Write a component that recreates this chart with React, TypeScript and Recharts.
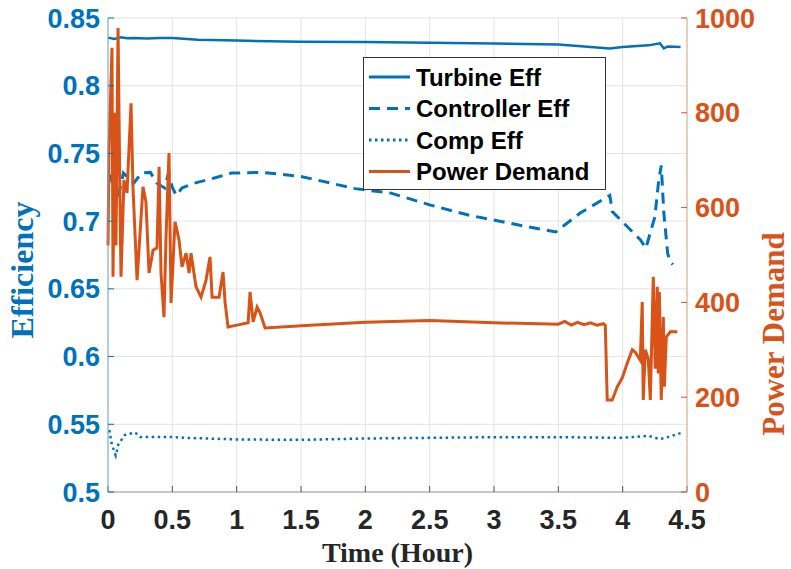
import React from "react";
import { ComposedChart, Line, XAxis, YAxis, CartesianGrid, Legend, Label } from "recharts";

const BLUE = "#0072BD";
const ORANGE = "#D95319";

// time (hour) ticks and axis ticks
const timeTicks = [0, 0.5, 1, 1.5, 2, 2.5, 3, 3.5, 4, 4.5];
const effTicks = [0.5, 0.55, 0.6, 0.65, 0.7, 0.75, 0.8, 0.85];
const powerTicks = [0, 200, 400, 600, 800, 1000];

const turbineT = [0, 0.05, 0.1, 0.15, 0.2, 0.3, 0.4, 0.5, 0.7, 1.0, 1.5, 2.0, 2.5, 3.0, 3.5, 3.8, 3.9, 4.0, 4.2, 4.29, 4.32, 4.35, 4.45];
const turbineEff = [0.8355, 0.8345, 0.8358, 0.835, 0.8353, 0.8348, 0.8352, 0.8352, 0.834, 0.8333, 0.8325, 0.8322, 0.8318, 0.8312, 0.8305, 0.8282, 0.8275, 0.8285, 0.8298, 0.8313, 0.8275, 0.829, 0.8285];

const controllerT = [0, 0.02, 0.07, 0.12, 0.2, 0.26, 0.33, 0.38, 0.44, 0.47, 0.5, 0.53, 0.575, 0.67, 0.82, 0.96, 1.2, 1.5, 1.92, 2.2, 2.5, 2.8, 3.2, 3.48, 3.67, 3.9, 3.92, 4.14, 4.18, 4.25, 4.28, 4.3, 4.32, 4.35, 4.37, 4.39];
const controllerEff = [0.731, 0.733, 0.714, 0.7355, 0.728, 0.7355, 0.736, 0.728, 0.7245, 0.7355, 0.725, 0.719, 0.7245, 0.728, 0.7317, 0.7355, 0.736, 0.733, 0.724, 0.7207, 0.712, 0.7045, 0.697, 0.692, 0.706, 0.719, 0.707, 0.686, 0.68, 0.703, 0.73, 0.741, 0.706, 0.676, 0.67, 0.668];

const compT = [0.01, 0.03, 0.06, 0.08, 0.13, 0.21, 0.25, 0.5, 0.6, 1.0, 1.5, 2.0, 2.5, 3.0, 3.5, 4.0, 4.2, 4.29, 4.35, 4.45];
const compEff = [0.5458, 0.535, 0.527, 0.535, 0.542, 0.544, 0.5406, 0.5406, 0.54, 0.5388, 0.5385, 0.5395, 0.54, 0.5405, 0.5405, 0.54, 0.5415, 0.539, 0.5405, 0.5435];

const powerT = [0, 0.008, 0.031, 0.039, 0.054, 0.062, 0.078, 0.093, 0.101, 0.124, 0.148, 0.179, 0.194, 0.226, 0.272, 0.295, 0.319, 0.35, 0.381, 0.397, 0.412, 0.435, 0.451, 0.474, 0.49, 0.521, 0.552, 0.575, 0.607, 0.63, 0.645, 0.684, 0.723, 0.762, 0.793, 0.809, 0.863, 0.894, 0.91, 0.933, 1.003, 1.089, 1.104, 1.128, 1.159, 1.182, 1.221, 1.571, 2.0, 2.5, 3.0, 3.5, 3.55, 3.6, 3.65, 3.7, 3.75, 3.8, 3.85, 3.865, 3.88, 3.919, 3.958, 3.997, 4.036, 4.075, 4.098, 4.137, 4.152, 4.16, 4.176, 4.199, 4.215, 4.238, 4.253, 4.269, 4.277, 4.285, 4.3, 4.316, 4.324, 4.339, 4.37, 4.425];
const powerDemand = [520, 722, 937, 454, 800, 520, 979, 620, 454, 658, 631, 820, 644, 447, 644, 612, 462, 510, 515, 686, 462, 369, 538, 715, 399, 570, 532, 475, 504, 462, 504, 433, 411, 447, 496, 411, 411, 464, 400, 348, 352, 357, 422, 359, 390, 378, 346, 352, 358, 362, 357, 354, 360, 352, 358, 353, 357, 352, 355, 352, 194, 194, 222, 241, 272, 300, 295, 278, 401, 194, 300, 280, 194, 454, 260, 433, 250, 422, 194, 369, 222, 327, 338, 338];

const zip = (t: number[], v: number[]) => t.map((x, i) => ({ t: x, v: v[i] }));

const turbineData = zip(turbineT, turbineEff);
const controllerData = zip(controllerT, controllerEff);
const compData = zip(compT, compEff);
const powerData = zip(powerT, powerDemand);

const SERIES = [
    { name: "Turbine Eff", color: BLUE, dash: undefined },
    { name: "Controller Eff", color: BLUE, dash: "11 7" },
    { name: "Comp Eff", color: BLUE, dash: "2.5 3.5" },
    { name: "Power Demand", color: ORANGE, dash: undefined },
];

const tickFont = { fontFamily: "'Liberation Sans', Arial, sans-serif", fontWeight: 700, fontSize: 27 };
const titleFont = "'Liberation Serif', 'Times New Roman', serif";

function LegendBox() {
    return (
        <div style={{ width: 243, height: 133, border: "1px solid #333", background: "#fff", boxSizing: "border-box" }}>
            <svg width={241} height={131}>
                {SERIES.map((s, i) => (
                    <g key={s.name}>
                        <line x1={5} x2={46} y1={19 + i * 31.5} y2={19 + i * 31.5} stroke={s.color} strokeWidth={3} strokeDasharray={s.dash} />
                        <text x={52} y={19 + i * 31.5} dy="0.36em" fill="#000" fontFamily="'Liberation Sans', Arial, sans-serif" fontWeight={700} fontSize={24}>
                            {s.name}
                        </text>
                    </g>
                ))}
            </svg>
        </div>
    );
}

export default function App() {
    return (
        <div style={{ position: "absolute", left: 0, top: 0, background: "#fff" }}>
            <ComposedChart width={791} height={569} margin={{ top: 18, right: 0, bottom: 0, left: 0 }}>
                <CartesianGrid xAxisId="x" yAxisId="left" stroke="#e3e3e3" strokeWidth={1} />
                <XAxis
                    xAxisId="x"
                    dataKey="t"
                    type="number"
                    domain={[0, 4.5]}
                    ticks={timeTicks}
                    height={77}
                    tickSize={-6}
                    tickMargin={24}
                    tick={{ ...tickFont, fill: "#262626" }}
                    stroke="#9a9a9a"
                    tickLine={{ stroke: "#555" }}
                >
                    <Label
                        value="Time (Hour)"
                        position="insideBottom"
                        offset={7}
                        style={{ fontFamily: titleFont, fontWeight: 700, fontSize: 28, fill: "#262626" }}
                    />
                </XAxis>
                <XAxis
                    xAxisId="top"
                    orientation="top"
                    type="number"
                    domain={[0, 4.5]}
                    ticks={timeTicks}
                    height={0}
                    tick={false}
                    tickSize={-6}
                    stroke="#9a9a9a"
                    tickLine={{ stroke: "#555" }}
                />
                <YAxis
                    yAxisId="left"
                    type="number"
                    domain={[0.5, 0.85]}
                    ticks={effTicks}
                    width={108}
                    tickSize={-6}
                    tickMargin={14}
                    tick={{ ...tickFont, fill: BLUE }}
                    stroke="#6fa8d6"
                    tickLine={{ stroke: BLUE }}
                >
                    <Label
                        content={() => (
                            <text x={33} y={270} transform="rotate(-90 33 270)" textAnchor="middle" fill={BLUE} fontFamily={titleFont} fontWeight={700} fontSize={32}>
                                Efficiency
                            </text>
                        )}
                    />
                </YAxis>
                <YAxis
                    yAxisId="right"
                    orientation="right"
                    type="number"
                    domain={[0, 1000]}
                    ticks={powerTicks}
                    width={104}
                    tickSize={-6}
                    tickMargin={14}
                    tick={{ ...tickFont, fill: ORANGE }}
                    stroke="#e8a985"
                    tickLine={{ stroke: ORANGE }}
                >
                    <Label
                        content={() => (
                            <text x={784} y={334} transform="rotate(-90 784 334)" textAnchor="middle" fill={ORANGE} fontFamily={titleFont} fontWeight={700} fontSize={31}>
                                Power Demand
                            </text>
                        )}
                    />
                </YAxis>
                <Line xAxisId="x" yAxisId="left" data={turbineData} dataKey="v" name="Turbine Eff" type="linear" stroke={BLUE} strokeWidth={2.5} dot={false} isAnimationActive={false} />
                <Line xAxisId="x" yAxisId="left" data={controllerData} dataKey="v" name="Controller Eff" type="linear" stroke={BLUE} strokeWidth={3} strokeDasharray="11 7" dot={false} isAnimationActive={false} />
                <Line xAxisId="x" yAxisId="left" data={compData} dataKey="v" name="Comp Eff" type="linear" stroke={BLUE} strokeWidth={2.5} strokeDasharray="2.5 3.5" dot={false} isAnimationActive={false} />
                <Line xAxisId="x" yAxisId="right" data={powerData} dataKey="v" name="Power Demand" type="linear" stroke={ORANGE} strokeWidth={3} dot={false} isAnimationActive={false} />
                <Legend
                    layout="vertical"
                    align="center"
                    verticalAlign="middle"
                    content={() => <LegendBox />}
                    wrapperStyle={{ position: "absolute", left: 363, top: 57, width: 243, height: 133 }}
                />
            </ComposedChart>
        </div>
    );
}
